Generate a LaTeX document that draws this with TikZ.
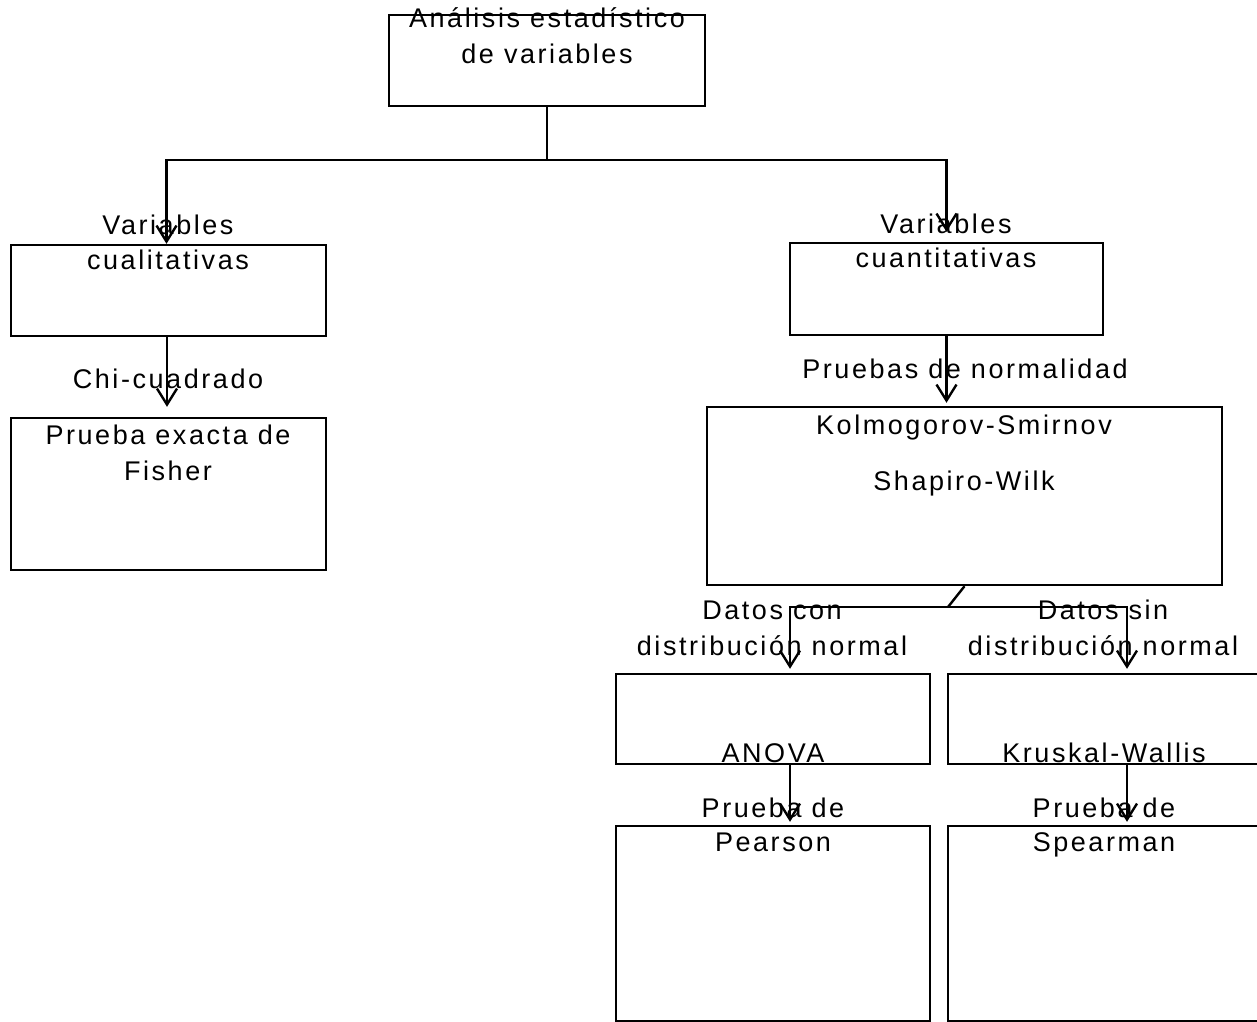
\documentclass[tikz,border=0pt]{standalone}
\usepackage{fontspec}
\setmainfont{Liberation Sans}[LetterSpace=9.5]
\usetikzlibrary{arrows.meta}
\tikzset{
  box/.style={draw=black, line width=2.4pt, inner sep=0pt, fill=none},
  lbl/.style={anchor=base, inner sep=0pt, font=\fontsize{27}{32}\selectfont},
  conn/.style={draw=black, line width=2.4pt},
  arr/.style={conn, -{Straight Barb[length=16pt, width=20pt, line width=2.4pt]}},
}
\begin{document}
\begin{tikzpicture}[x=1pt, y=-1pt]
\useasboundingbox (0,0) rectangle (1257,1021);
\clip (0,0) rectangle (1257,1021);
% boxes
\node[box, minimum width=316pt, minimum height=91pt] (top) at (547,60.5) {};
\node[box, minimum width=315pt, minimum height=91pt] (qual) at (168.5,290.5) {};
\node[box, minimum width=315pt, minimum height=152pt] (fisher) at (168.5,494) {};
\node[box, minimum width=313pt, minimum height=92pt] (quan) at (946.5,289) {};
\node[box, minimum width=515pt, minimum height=178pt] (norm) at (964.5,496) {};
\node[box, minimum width=314pt, minimum height=90pt] (anova) at (773,719) {};
\node[box, minimum width=314pt, minimum height=90pt] (kw) at (1105,719) {};
\node[box, minimum width=314pt, minimum height=195pt] (pearson) at (773,923.5) {};
\node[box, minimum width=314pt, minimum height=195pt] (spear) at (1105,923.5) {};
% connectors
\coordinate (hub) at (547,160);
\coordinate (split) at (948,607);
\draw[conn] (top.south) -- (hub);
\draw[arr] (hub) -| ([xshift=-2pt]qual.north);
\draw[arr, shorten >=10pt] (hub) -| (quan.north);
\draw[arr, shorten >=10pt] ([xshift=-1.5pt]qual.south) -- ([xshift=-1.5pt]fisher.north);
\draw[arr, shorten >=3pt] (quan.south) -- (quan.south |- norm.north);
\draw[conn] (norm.south) -- (split);
\draw[arr, shorten >=4pt] (split) -| ([xshift=17pt]anova.north);
\draw[arr, shorten >=4pt] (split) -| ([xshift=22pt]kw.north);
\draw[arr, shorten >=3pt] ([xshift=17pt]anova.south) -- ([xshift=17pt]pearson.north);
\draw[arr, shorten >=3pt] ([xshift=22pt]kw.south) -- ([xshift=22pt]spear.north);
% labels
\node[lbl] (t1a) at (547,27) {Análisis estadístico};
\node[lbl] (t1b) at (547,63) {de variables};
\node[lbl] (t2a) at (168,234) {Variables};
\node[lbl] (t2b) at (168,269) {cualitativas};
\node[lbl] (t3) at (168,388) {Chi-cuadrado};
\node[lbl] (t4a) at (168,444) {Prueba exacta de};
\node[lbl] (t4b) at (168,480) {Fisher};
\node[lbl] (t5a) at (946,233) {Variables};
\node[lbl] (t5b) at (946,267) {cuantitativas};
\node[lbl] (t6) at (965,378) {Pruebas de normalidad};
\node[lbl] (t7a) at (964,434) {Kolmogorov-Smirnov};
\node[lbl] (t7b) at (964,490) {Shapiro-Wilk};
\node[lbl] (t8a) at (772,619) {Datos con};
\node[lbl] (t8b) at (772,655) {distribución normal};
\node[lbl] (t9a) at (1103,619) {Datos sin};
\node[lbl] (t9b) at (1103,655) {distribución normal};
\node[lbl] (t10) at (773,762) {ANOVA};
\node[lbl] (t11) at (1104,762) {Kruskal-Wallis};
\node[lbl] (t12a) at (773,817) {Prueba de};
\node[lbl] (t12b) at (773,851) {Pearson};
\node[lbl] (t13a) at (1104,817) {Prueba de};
\node[lbl] (t13b) at (1104,851) {Spearman};
\end{tikzpicture}
\end{document}
